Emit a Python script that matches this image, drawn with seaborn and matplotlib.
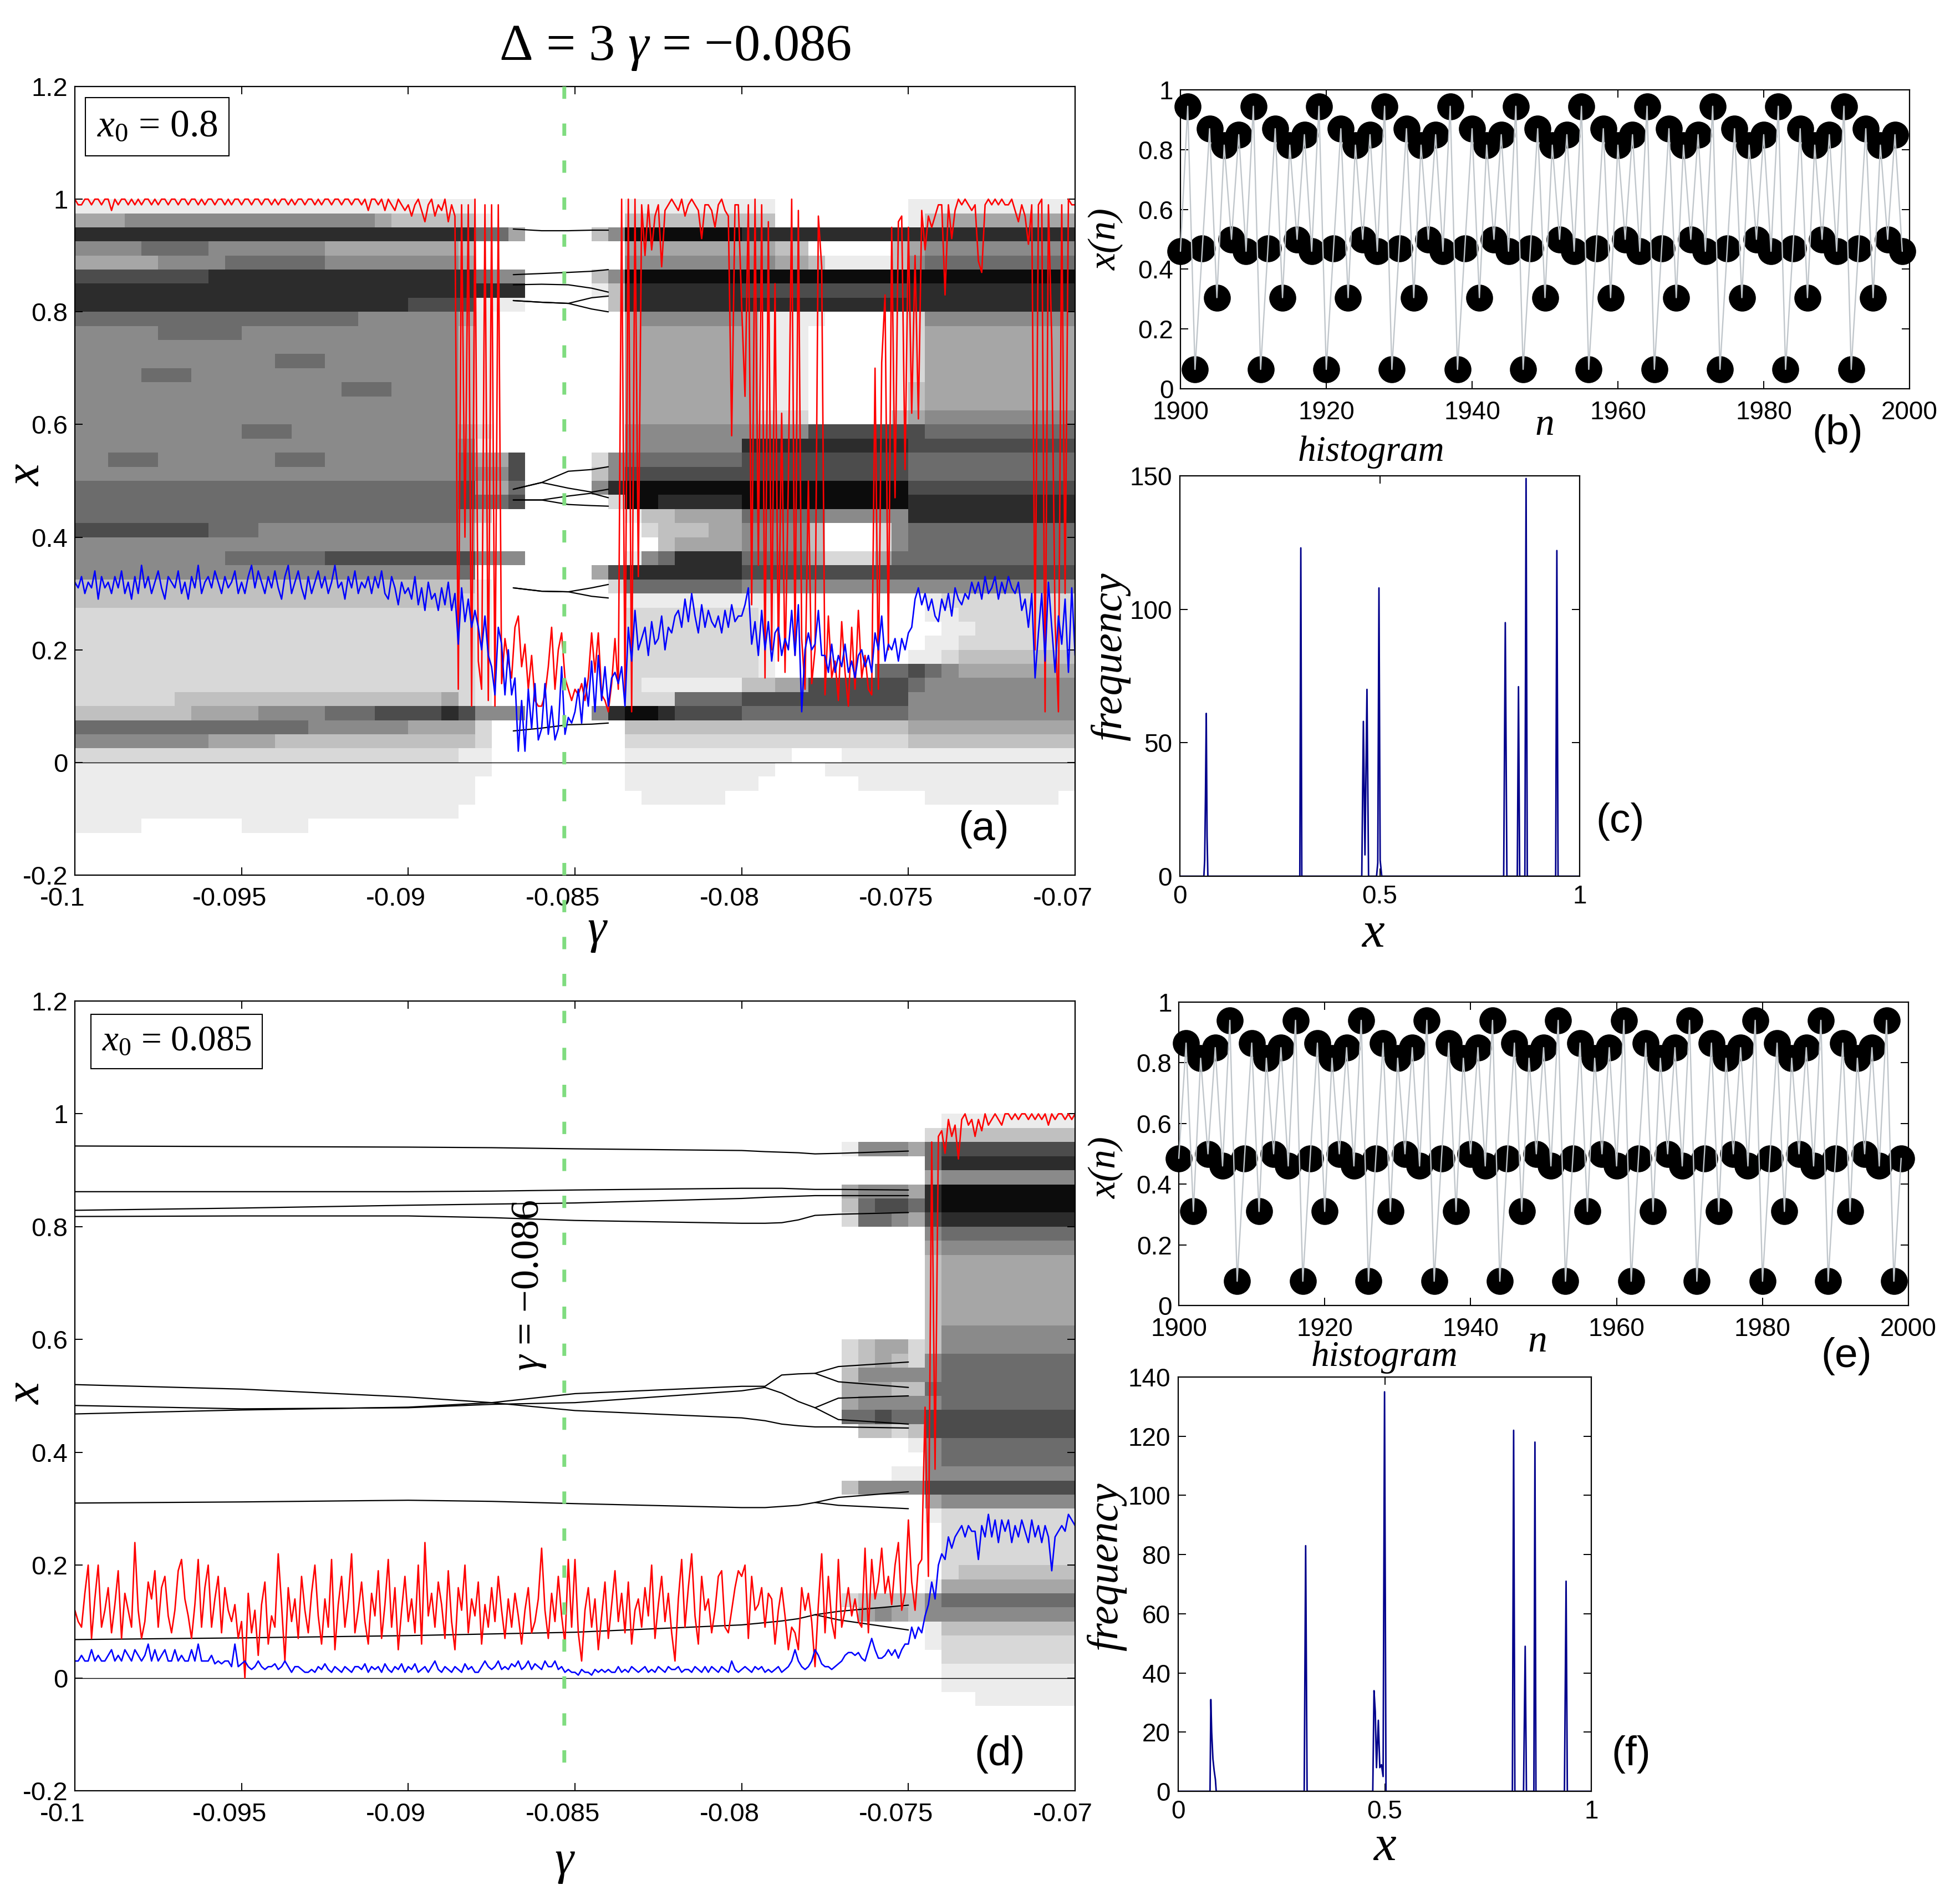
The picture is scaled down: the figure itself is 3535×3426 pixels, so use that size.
import numpy as np
import pandas as pd
import seaborn as sns
import matplotlib
matplotlib.use("Agg")
import matplotlib.pyplot as plt
from matplotlib.patches import ConnectionPatch
from matplotlib.transforms import ScaledTranslation

W, H = 3535, 3426

# x values below are in hundredths, 10 points per 0.001 of gamma
red_a = [
    100,99,99,100,100,99,100,100,99,100,
    100,98,100,99,100,100,99,100,99,100,
    99,100,100,99,100,99,100,100,99,100,
    100,99,100,100,99,100,100,99,100,99,
    100,100,99,100,100,99,100,99,100,100,
    99,100,100,99,100,100,99,100,100,99,
    100,99,100,100,99,100,99,100,100,99,
    100,100,99,100,99,100,100,99,100,100,
    99,100,100,99,100,100,99,100,98,100,
    100,99,100,98,100,99,98,100,99,98,
    99,97,99,100,98,96,99,100,97,99,
    98,100,96,99,97,13,99,40,99,10,
    100,18,13,99,11,99,10,99,14,22,
    18,15,24,26,17,21,13,19,11,10,
    10,12,17,24,13,20,23,15,13,11,
    13,12,14,11,15,23,16,23,12,11,
    9,14,22,13,100,11,100,9,100,33,
    99,90,99,91,97,99,88,98,99,100,
    99,98,100,97,99,100,99,98,93,99,
    99,98,95,99,100,98,97,58,99,99,
    81,65,99,28,100,35,99,15,96,20,
    85,18,62,16,50,100,19,98,22,13,
    50,14,20,97,88,12,26,15,18,11,
    25,16,10,24,13,27,15,19,13,12,
    70,13,71,83,20,95,47,96,97,52,
    95,62,90,61,98,91,97,95,97,99,
    99,83,99,93,98,100,99,100,99,98,
    99,89,87,99,100,99,100,99,100,99,
    99,100,98,96,99,97,92,99,20,99,
    100,9,99,75,25,9,99,30,100,99,
    99,
]
blue_a = [
    32,31,33,30,32,31,34,29,33,31,
    32,30,33,31,34,30,32,29,33,30,
    35,31,33,30,32,34,31,29,33,32,
    31,34,30,32,29,33,31,35,30,32,
    33,31,34,32,30,33,31,32,34,30,
    32,30,33,35,31,34,32,30,33,31,
    34,31,29,33,35,30,32,34,31,29,
    33,30,32,34,31,33,30,32,35,31,
    32,29,33,31,34,30,32,31,33,30,
    33,31,34,30,29,33,31,28,32,30,
    31,29,33,28,31,27,32,29,30,27,
    31,28,32,27,30,21,31,25,29,24,
    27,24,20,26,19,17,12,24,21,12,
    20,12,15,2,11,2,13,6,14,4,
    6,14,5,10,4,6,17,5,8,7,
    9,13,7,15,10,18,9,19,11,17,
    10,15,16,14,17,10,24,18,27,20,
    22,24,19,25,21,22,26,20,24,23,
    26,27,24,29,25,30,26,23,28,24,
    27,25,24,26,23,27,24,28,25,26,
    26,28,31,21,25,19,27,20,25,18,
    23,24,19,22,20,27,19,28,9,20,
    23,20,21,27,19,19,16,21,16,19,
    17,21,16,18,15,19,20,17,19,16,
    23,20,26,18,21,20,22,18,22,20,
    23,24,29,31,28,30,27,29,26,25,
    29,27,30,26,31,29,28,30,29,32,
    30,32,29,33,30,31,33,29,32,30,
    33,31,30,32,27,29,24,30,15,23,
    30,18,32,24,16,26,21,29,16,31,
    19,
]
red_d = [
    12,10,9,15,20,7,14,20,9,12,
    16,8,13,19,7,15,12,9,24,12,
    7,10,17,14,19,9,16,18,11,8,
    12,19,21,14,11,7,13,21,9,16,
    20,9,14,18,8,16,12,10,13,7,
    10,0,15,8,12,4,13,17,6,11,
    9,22,13,3,16,10,14,7,18,12,
    8,15,20,11,6,14,9,21,5,13,
    18,9,14,22,8,12,17,10,6,15,
    11,19,7,13,21,9,16,5,12,18,
    10,14,8,20,6,24,11,15,9,17,
    13,7,19,10,5,16,12,20,8,14,
    11,17,6,13,9,16,10,18,12,7,
    14,9,15,11,6,12,16,8,10,14,
    23,12,7,15,10,18,11,6,21,9,
    21,8,3,12,16,9,14,5,11,17,
    7,13,19,10,15,8,17,6,12,14,
    9,16,11,20,7,13,18,10,15,8,
    3,14,21,9,16,22,11,6,18,12,
    14,8,12,18,19,9,8,12,16,19,
    18,20,7,18,12,13,16,9,15,14,
    6,12,16,11,5,9,8,5,16,12,
    15,10,2,13,22,8,18,10,7,21,
    9,12,16,11,14,10,9,23,8,21,
    14,17,23,15,18,13,20,24,12,15,
    28,17,12,20,21,48,18,95,37,96,
    97,93,99,96,98,92,99,100,98,99,
    96,99,97,100,98,99,100,99,98,100,
    100,99,100,99,100,100,99,100,99,100,
    99,100,98,100,99,100,100,99,100,99,
    100,
]
blue_d = [
    3,3,4,3,3,5,3,4,3,3,
    4,5,3,4,3,5,4,3,5,4,
    3,4,6,3,5,3,4,5,3,3,
    5,3,4,3,3,5,3,6,3,3,
    3,4,2.5,3,2.5,3,3,2,6,2,
    2.5,3,2,1.5,2,3,2,1.5,2,2,
    2.5,1.5,2,3,2,1,2,2,1.5,1,
    1,1.5,1,2,1.5,2.5,1.5,1,2,1.5,
    1,2,1.5,1,2,2,1.5,2.5,1,2,
    1.5,2,1,2.5,1.5,1,2,1.5,2.5,1,
    2,1.5,2.5,1,1.5,2,1,2,3,1.5,
    1,2,1.5,1,2,1.5,1,2.5,1.5,2,
    1,1,2,3,2,1.5,2,3,1.5,2,
    1.5,2.5,2,3,1.5,2,3,1.5,2.5,2,
    1.5,3,2,2,3,1.5,2,1,1.5,1,
    1,0.5,1.5,1,1,0.5,1.5,1,1.5,1,
    1.5,1,1,2,1,1.5,1,2,1.5,1,
    1.5,2,1,1.5,1,2,1.5,1,2,1.5,
    1.5,2,1,1.5,1.5,1,2,1.5,1,2,
    1,2,1.5,1,2,1.5,1,3,1.5,1,
    1.5,2,1.5,1,2,1.5,2,1,1.5,1,
    1.5,2,1,1.5,2,3,5,3,2,1.5,
    2,3,5,4,2.5,2,2,1.5,2,2.5,
    3,4,4.5,4.5,4,4.5,3.5,3,5,7,
    5,3.5,3.5,4,5,4,5,3.5,5,6,
    6,9,7,9,8,11,13,17,14,20,
    22,21,25,23,25,26,27,25,27,26,
    26,21,27,25,29,25,28,24,28,26,
    28,24,27,25,28,26,24,28,25,27,
    24,27,25,19,25,26,27,26,29,28,
    27,
]

# density of the point clouds, digit 0-9, read by eye
# rows run from x=1.0 downward in steps of 0.025, columns from gamma=-0.1 in steps of 0.0005
cloud_a = [
    "11111111111111111111111 1 000 000 000 1111111 1100000000 1111111111",
    "44455555555555555543333 3 100 000 000 3333333 3300000000 1344444444",
    "88888888888888888888888 8 664 000 035 9999999 8888888888 8888888888",
    "55556666555555544444444 3 000 000 000 4444444 4433000003 4555555555",
    "44444555566666655555555 4 000 000 000 5555555 5544311113 5666666666",
    "77777777888888888888888 8 655 000 035 9999999 9999999999 9999999999",
    "88888888888888888888888 8 888 000 013 8888888 7777777777 8888888888",
    "88888888888888888888777 7 111 000 003 8888888 8888888888 8888888888",
    "66666666666666666555555 4 100 000 000 4555555 4111100001 2555555555",
    "55555666665555555555555 3 100 000 000 4444444 4111000001 2444444444",
    "55555555555555555555555 3 100 000 000 4444444 4111000001 2444444444",
    "55555555555566655555555 3 100 000 000 4444444 4111000001 2444444444",
    "55556665555555555555555 3 100 000 000 4444444 4111000001 2444444444",
    "55555555555555556665555 3 100 000 000 4444444 4111000001 3444444444",
    "55555555555555555555555 3 100 000 000 4444444 4111000001 3444444444",
    "55555555555555555555555 3 100 000 000 4444444 4222000003 4555555555",
    "55555555556665555555555 4 200 000 000 5555555 5555777777 7666666666",
    "55555555555555555555555 5 100 000 000 5555555 8888888888 7777777777",
    "55666555555566655555555 6 447 000 025 6666666 7777777777 6666666666",
    "55555555555555555555555 6 557 000 035 7777777 7777777777 6666666666",
    "66666666666666666666666 7 446 000 058 9999999 9999999999 7777777777",
    "66666666666666666666666 7 667 000 002 9988888 9999999999 8888888888",
    "66666666666666666666666 5 300 000 000 1334444 6666655555 8888888888",
    "77777777666555555555555 4 100 000 000 0233344 5555300025 6666666666",
    "55555555555555555555555 4 100 000 000 0034444 5555300025 6666666666",
    "55555555566666677777777 7 555 000 000 1568888 6666422246 6666666666",
    "55555555555555555555555 6 000 000 047 8888888 7777777777 7777777777",
    "33333333333333333333333 3 100 000 002 6666666 5555555555 5555555555",
    "33333333333333333333333 2 100 000 000 1111111 1100000000 0122222222",
    "22222222222222222222222 2 100 000 000 2222222 2100000000 0112222222",
    "22222222222222222222222 2 100 000 000 2222222 2100000000 0011222222",
    "22222222222222222222222 2 100 000 000 2222222 2100000000 0112222222",
    "22222222222222222222222 2 100 000 000 2222222 2100000000 1123333333",
    "22222222222222222222222 2 100 000 000 2222222 2100000066 7654444444",
    "22222222222222222222222 2 100 000 000 2111111 3344777777 6555555555",
    "22222233333333333333334 2 100 000 000 2226666 7777777777 5555555555",
    "33333334444555566677778 7 555 000 058 9987777 6666666666 5555555555",
    "66666666666666555555444 4 200 000 000 3333333 3333333333 4444444444",
    "55555555444433333333333 3 200 000 000 2222222 2222222222 3333333333",
    "22222222222222222222222 1 100 000 000 1111111 1110001111 1111111111",
    "11111111111111111111111 1 100 000 000 1111111 1100011111 1111111111",
    "11111111111111111111111 1 000 000 000 1111111 1000000111 1111111111",
    "11111111111111111111111 1 000 000 000 0111110 0000000000 0111111110",
    "11111111111111111111111 0 000 000 000 0000000 0000000000 0000000000",
    "11110000001111000000000 0 000 000 000 0000000 0000000000 0000000000",
]
# same grid for panel (d), only the columns from gamma=-0.077 on are listed
cloud_d = [
    "00000 011111111",
    "00000 233333333",
    "15554 677777777",
    "00000 688888888",
    "00000 455555555",
    "45554 899999999",
    "36776 899999999",
    "26654 788888888",
    "00000 566666666",
    "00000 455555555",
    "00000 344444444",
    "00000 344444444",
    "00000 344444444",
    "00000 344444444",
    "00000 344444444",
    "00000 355555555",
    "23442 355555555",
    "23432 566666666",
    "35555 566666666",
    "44433 666666666",
    "45555 566666666",
    "66766 777777777",
    "03323 777777777",
    "00001 566666666",
    "00000 566666666",
    "00011 555555555",
    "35555 777777777",
    "00000 455555555",
    "00000 122222222",
    "00000 022222222",
    "00000 022222222",
    "00000 022222222",
    "00000 023333333",
    "00000 144444444",
    "23333 566666666",
    "04543 555555555",
    "00000 133333333",
    "00000 122222222",
    "00000 022222222",
    "00000 011111111",
    "00000 011111111",
    "00000 000111111",
]
cloud_greys = ["#ffffff", "#ececec", "#d8d8d8", "#c0c0c0", "#a6a6a6",
               "#8a8a8a", "#6c6c6c", "#4c4c4c", "#2c2c2c", "#0c0c0c"]

# thin branches of the periodic windows, each with its own gamma list
gamma_win_a = [-0.08685, -0.086, -0.0852, -0.0845, -0.084]
branches_a = [
    (gamma_win_a, [0.947, 0.944, 0.944, 0.945, 0.945]),
    (gamma_win_a, [0.866, 0.868, 0.870, 0.872, 0.875]),
    (gamma_win_a, [0.848, 0.849, 0.848, 0.842, 0.835]),
    (gamma_win_a, [0.820, 0.817, 0.815, 0.825, 0.828]),
    (gamma_win_a, [0.820, 0.817, 0.815, 0.805, 0.800]),
    (gamma_win_a, [0.485, 0.497, 0.517, 0.520, 0.525]),
    (gamma_win_a, [0.485, 0.497, 0.487, 0.480, 0.485]),
    (gamma_win_a, [0.466, 0.466, 0.473, 0.478, 0.470]),
    (gamma_win_a, [0.466, 0.466, 0.458, 0.456, 0.455]),
    (gamma_win_a, [0.310, 0.304, 0.303, 0.310, 0.316]),
    (gamma_win_a, [0.310, 0.304, 0.303, 0.295, 0.292]),
    (gamma_win_a, [0.056, 0.061, 0.067, 0.068, 0.070]),
]
gamma_win_d = [-0.1, -0.095, -0.09, -0.0875, -0.085, -0.08, -0.0793, -0.0788, -0.0783, -0.0778, -0.0771, -0.075]
gamma_split_d = [-0.0778, -0.0771, -0.075]
branches_d = [
    (gamma_win_d, [0.943, 0.942, 0.941, 0.940, 0.938, 0.935, 0.933, 0.932, 0.931, 0.929, 0.930, 0.934]),
    (gamma_win_d, [0.862, 0.862, 0.862, 0.863, 0.865, 0.868, 0.868, 0.868, 0.867, 0.866, 0.866, 0.865]),
    (gamma_win_d, [0.829, 0.833, 0.838, 0.840, 0.842, 0.850, 0.852, 0.853, 0.854, 0.855, 0.855, 0.855]),
    (gamma_win_d, [0.818, 0.819, 0.819, 0.816, 0.811, 0.806, 0.806, 0.807, 0.812, 0.820, 0.822, 0.825]),
    (gamma_win_d, [0.520, 0.512, 0.498, 0.488, 0.474, 0.461, 0.456, 0.450, 0.447, 0.445, 0.445, 0.443]),
    (gamma_win_d, [0.468, 0.475, 0.480, 0.488, 0.504, 0.517, 0.517, 0.537, 0.539, 0.540, 0.552, 0.560]),
    (gamma_win_d, [0.483, 0.477, 0.479, 0.485, 0.488, 0.509, 0.515, 0.505, 0.490, 0.479, 0.496, 0.500]),
    (gamma_split_d, [0.479, 0.458, 0.450]),
    (gamma_split_d, [0.540, 0.525, 0.515]),
    (gamma_win_d, [0.310, 0.312, 0.315, 0.313, 0.309, 0.302, 0.302, 0.304, 0.306, 0.311, 0.320, 0.330]),
    (gamma_split_d, [0.311, 0.306, 0.300]),
    (gamma_win_d, [0.068, 0.071, 0.075, 0.078, 0.081, 0.094, 0.098, 0.101, 0.105, 0.112, 0.118, 0.129]),
    (gamma_split_d, [0.112, 0.103, 0.085]),
]

n_values = list(range(1900, 2000))
xn_b = [
    .46,.945,.065,.47,.87,.305,.815,.5,.85,
    .46,.945,.065,.47,.87,.305,.815,.5,.85,
    .46,.945,.065,.47,.87,.305,.815,.5,.85,
    .46,.945,.065,.47,.87,.305,.815,.5,.85,
    .46,.945,.065,.47,.87,.305,.815,.5,.85,
    .46,.945,.065,.47,.87,.305,.815,.5,.85,
    .46,.945,.065,.47,.87,.305,.815,.5,.85,
    .46,.945,.065,.47,.87,.305,.815,.5,.85,
    .46,.945,.065,.47,.87,.305,.815,.5,.85,
    .46,.945,.065,.47,.87,.305,.815,.5,.85,
    .46,.945,.065,.47,.87,.305,.815,.5,.85,
    .46,
]
xn_e = [
    .485,.865,.31,.815,.5,.85,.46,.94,.08,
    .485,.865,.31,.815,.5,.85,.46,.94,.08,
    .485,.865,.31,.815,.5,.85,.46,.94,.08,
    .485,.865,.31,.815,.5,.85,.46,.94,.08,
    .485,.865,.31,.815,.5,.85,.46,.94,.08,
    .485,.865,.31,.815,.5,.85,.46,.94,.08,
    .485,.865,.31,.815,.5,.85,.46,.94,.08,
    .485,.865,.31,.815,.5,.85,.46,.94,.08,
    .485,.865,.31,.815,.5,.85,.46,.94,.08,
    .485,.865,.31,.815,.5,.85,.46,.94,.08,
    .485,.865,.31,.815,.5,.85,.46,.94,.08,
    .485,
]

hist_c_x = [0, .060,.062,.064,.066,.068,.07, .30,.3025,.305, .455,.459,.463,.468,.472,
            .492,.495,.498,.501,.505, .81,.814,.818, .844,.847,.85, .863,.866,.869, .94,.943,.946, 1]
hist_c_y = [0, 0,6,30,61,15,0, 0,123,0, 0,58,8,70,0,
            0,5,108,6,0, 0,95,0, 0,71,0, 0,149,0, 0,122,0, 0]
hist_f_x = [0, .077,.079,.081,.084,.087,.09,.092, .305,.3085,.312,
            .471,.474,.477,.480,.4845,.488,.492,.496,.4995,.503,
            .809,.812,.815, .836,.84,.843, .861,.8636,.866, .935,.939,.942, 1]
hist_f_y = [0, 0,31,20,11,7,4,0, 0,83,0,
            0,34,27,8,24,8,9,5,135,0,
            0,122,0, 0,49,0, 0,118,0, 0,71,0, 0]

gamma_ticks = [-0.1, -0.095, -0.09, -0.085, -0.08, -0.075, -0.07]
gamma_ticklabels = ["-0.1", "-0.095", "-0.09", "-0.085", "-0.08", "-0.075", "-0.07"]
x_ticks = [-0.2, 0, 0.2, 0.4, 0.6, 0.8, 1, 1.2]
x_ticklabels = ["-0.2", "0", "0.2", "0.4", "0.6", "0.8", "1", "1.2"]
marked_gamma = -0.08532

sns.set_theme(style="white", rc={
    "axes.edgecolor": "black",
    "axes.linewidth": 1.6,
    "text.color": "black",
    "mathtext.fontset": "custom",
    "mathtext.rm": "Liberation Serif",
    "mathtext.it": "Liberation Serif:italic",
    "mathtext.fallback": "stix",
})
plt.rcParams["font.family"] = ["Liberation Sans", "DejaVu Sans"]

fig = plt.figure(figsize=(W / 100, H / 100), dpi=100)


def box(left, top, right, bottom):
    return [left / W, 1 - bottom / H, (right - left) / W, (bottom - top) / H]


def put_text(x, y, s, size, rotation=0, serif=True, italic=True):
    fig.text(x / W, 1 - y / H, s, fontsize=size, rotation=rotation, ha="center", va="center",
             family=["Liberation Serif"] if serif else ["Liberation Sans"],
             style="italic" if italic else "normal")


def style_ticks(ax, xticks, xlabels, yticks, ylabels, xpad, ypad, size=33):
    ax.set_xticks(xticks)
    ax.set_xticklabels(xlabels)
    ax.set_yticks(yticks)
    ax.set_yticklabels(ylabels)
    ax.set_xlabel("")
    ax.set_ylabel("")
    ax.tick_params(axis="x", direction="in", top=True, bottom=True, length=10, width=1.4,
                   labelsize=size, pad=xpad, color="black", labelcolor="black")
    ax.tick_params(axis="y", direction="in", left=True, right=True, length=10, width=1.4,
                   labelsize=size, pad=ypad, color="black", labelcolor="black")


def draw_cloud(position, rows):
    cells = [[int(c) for c in r.replace(" ", "").rjust(60, "0")] for r in rows]
    cells = [[0] * 60] * 8 + cells
    cells = cells + [[0] * 60] * (56 - len(cells))
    cloud_ax = fig.add_axes(position, zorder=1)
    sns.heatmap(pd.DataFrame(cells), ax=cloud_ax, cmap=cloud_greys, vmin=-0.5, vmax=9.5,
                cbar=False, xticklabels=False, yticklabels=False)
    cloud_ax.axis("off")


def bifurcation_panel(position, rows, branches, red, blue):
    draw_cloud(position, rows)
    ax = fig.add_axes(position, zorder=2)
    ax.patch.set_alpha(0)
    for gamma_win, branch in branches:
        sns.lineplot(x=gamma_win, y=branch, ax=ax, color="black", lw=1.6,
                     estimator=None, sort=False)
    ax.axhline(0, color="black", lw=1)
    for series, colour in ((red, "#ff0000"), (blue, "#0000ff")):
        gamma = np.linspace(-0.1, -0.07, len(series))
        sns.lineplot(x=gamma, y=np.array(series) / 100, ax=ax, color=colour, lw=1.9,
                     estimator=None, sort=False)
    ax.set_xlim(-0.1, -0.07)
    ax.set_ylim(-0.2, 1.2)
    style_ticks(ax, gamma_ticks, gamma_ticklabels, x_ticks, x_ticklabels, 15, 9, size=34)
    shift = ScaledTranslation(-22 / 100, 0, fig.dpi_scale_trans)
    for label in ax.get_xticklabels():
        label.set_transform(label.get_transform() + shift)
    return ax


def series_panel(position, values):
    ax = fig.add_axes(position, zorder=2)
    sns.lineplot(x=n_values, y=values, ax=ax, color="black", lw=0, marker="o", markersize=35,
                 markeredgewidth=0, estimator=None, sort=False, clip_on=False, zorder=3)
    sns.lineplot(x=n_values, y=values, ax=ax, color="#c0c6cb", lw=1.7,
                 estimator=None, sort=False, clip_on=False, zorder=4)
    ax.set_xlim(1900, 2000)
    ax.set_ylim(0, 1)
    style_ticks(ax, [1900, 1920, 1940, 1960, 1980, 2000],
                ["1900", "1920", "1940", "1960", "1980", "2000"],
                [0, 0.2, 0.4, 0.6, 0.8, 1], ["0", "0.2", "0.4", "0.6", "0.8", "1"], 15, 9)
    return ax


def hist_panel(position, xs, ys, ymax, yticks):
    ax = fig.add_axes(position, zorder=2)
    sns.lineplot(x=xs, y=ys, ax=ax, color="#00008b", lw=2, estimator=None, sort=False)
    ax.set_xlim(0, 1)
    ax.set_ylim(0, ymax)
    style_ticks(ax, [0, 0.5, 1], ["0", "0.5", "1"], yticks, [str(t) for t in yticks], 11, 10)
    return ax


ax_a = bifurcation_panel(box(135, 156, 1939, 1578), cloud_a, branches_a, red_a, blue_a)
ax_d = bifurcation_panel(box(135, 1805, 1939, 3229), cloud_d, branches_d, red_d, blue_d)
series_panel(box(2129, 162, 3444, 701), xn_b)
series_panel(box(2126, 1807, 3442, 2354), xn_e)
hist_panel(box(2128, 858, 2849, 1580), hist_c_x, hist_c_y, 150, [0, 50, 100, 150])
hist_panel(box(2125, 2483, 2870, 3230), hist_f_x, hist_f_y, 140, [0, 20, 40, 60, 80, 100, 120, 140])

# green marker line crosses both panels
marker_line = ConnectionPatch(xyA=(marked_gamma, 1.2), coordsA=ax_a.transData,
                              xyB=(marked_gamma, -0.166), coordsB=ax_d.transData,
                              color="#7fdc7f", lw=5, linestyle=(0, (3.2, 6.4)),
                              capstyle="butt", zorder=10)
fig.add_artist(marker_line)

for ax, frac, label, size in ((ax_a, (0.0823, 0.949), r"$x_0$ = 0.8", 50),
                              (ax_d, (0.1019, 0.9487), r"$x_0$ = 0.085", 47)):
    ax.text(frac[0], frac[1], label, transform=ax.transAxes, fontsize=size, ha="center", va="center",
            family=["Liberation Serif"], zorder=8,
            bbox=dict(boxstyle="square,pad=0.3", facecolor="white", edgecolor="black", lw=1.5))

put_text(1218, 87, r"$\Delta$ = 3 $\gamma$ = $-$0.086", 68, italic=False)
put_text(955, 2318, r"$\gamma$ = $-$0.086", 52, rotation=90, italic=False)
put_text(1078, 1680, r"$\gamma$", 62, italic=False)
put_text(1019, 3359, r"$\gamma$", 62, italic=False)
put_text(50, 857, "x", 64, rotation=90)
put_text(50, 2513, "x", 64, rotation=90)
put_text(1995, 431, "x(n)", 50, rotation=90)
put_text(1995, 2105, "x(n)", 50, rotation=90)
put_text(2786, 767, "n", 50)
put_text(2773, 2420, "n", 50)
put_text(2473, 815, "histogram", 47)
put_text(2497, 2447, "histogram", 47)
put_text(2003, 1184, "frequency", 56, rotation=90)
put_text(1996, 2825, "frequency", 56, rotation=90)
put_text(2476, 1685, "x", 66)
put_text(2497, 3332, "x", 66)

for label, x, y in (("(a)", 1774, 1495), ("(b)", 3314, 782), ("(c)", 2922, 1481),
                    ("(d)", 1803, 3163), ("(e)", 3330, 2446), ("(f)", 2942, 3163)):
    put_text(x, y, label, 54, serif=False, italic=False)

fig.savefig("out.png", dpi=100)
